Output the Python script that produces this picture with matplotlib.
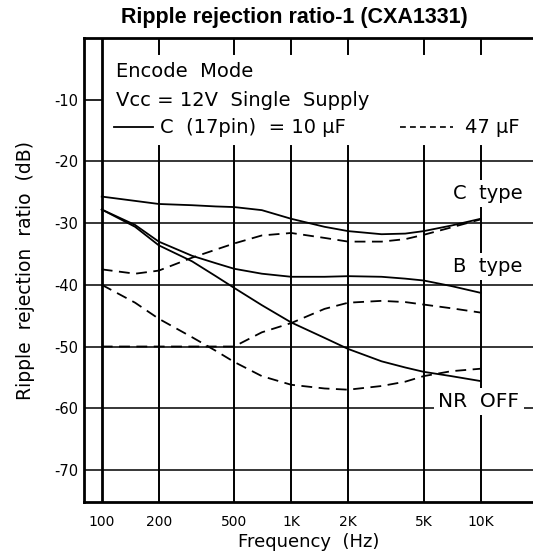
import numpy as np
import matplotlib.pyplot as plt
from matplotlib.lines import Line2D

plt.rcParams['font.family'] = ['DejaVu Sans']

freq = [100, 150, 200, 300, 400, 500, 700, 1000, 1500, 2000, 3000, 4000, 5000, 7000, 10000]

# C (17pin) = 10 uF  -> solid, 47 uF -> dashed
c_type_10 = [-25.7, -26.4, -26.9, -27.1, -27.3, -27.4, -27.9, -29.3, -30.6, -31.3, -31.8, -31.7, -31.3, -30.4, -29.3]
c_type_47 = [-37.5, -38.2, -37.7, -35.6, -34.3, -33.3, -32.0, -31.6, -32.4, -33.0, -33.0, -32.6, -31.9, -30.7, -29.4]
b_type_10 = [-27.8, -30.3, -33.0, -35.3, -36.5, -37.4, -38.2, -38.7, -38.7, -38.6, -38.7, -39.0, -39.3, -40.2, -41.3]
b_type_47 = [-50.0, -50.0, -50.0, -50.0, -50.0, -50.0, -47.7, -46.2, -43.9, -42.9, -42.6, -42.8, -43.2, -43.8, -44.5]
nr_off_10 = [-27.8, -30.6, -33.6, -36.2, -38.6, -40.5, -43.3, -46.1, -48.6, -50.4, -52.4, -53.4, -54.1, -54.8, -55.6]
nr_off_47 = [-40.0, -42.9, -45.5, -48.5, -50.7, -52.5, -54.8, -56.2, -56.8, -57.0, -56.4, -55.7, -54.8, -54.0, -53.6]

grid_freq = [100, 200, 500, 1000, 2000, 5000, 10000]
grid_labels = ['100', '200', '500', '1K', '2K', '5K', '10K']
db_ticks = [-10, -20, -30, -40, -50, -60, -70]

W, H = 533, 559
fig = plt.figure(figsize=(W / 100, H / 100), dpi=100)

def fx(px):
  return px / W

def fy(py):
  return 1 - py / H

ax = fig.add_axes([fx(84), fy(502), fx(W) - fx(84), fy(38) - fy(502)])
ax.set_xscale('log')
ax.set_xlim(80.6, 18900)
ax.set_ylim(-75.2, 0)
ax.minorticks_off()

for s in ['left', 'top', 'bottom']:
  ax.spines[s].set_linewidth(2.0)
ax.spines['right'].set_visible(False)

# grid: horizontal lines below the text block, vertical ones stop at -17.5
for d in db_ticks:
  if d == -10:
    ax.plot([80.6, 100], [d, d], c='k', lw=1.2, zorder=1)
  else:
    ax.axhline(d, c='k', lw=1.1, zorder=1)
for f in grid_freq:
  if f == 100:
    ax.axvline(f, c='k', lw=2.0, zorder=1)
  else:
    ax.plot([f, f], [-75.2, -17.5], c='k', lw=1.4, zorder=1)
    ax.plot([f, f], [0, -2.6], c='k', lw=1.4, zorder=1)

ax.set_xticks(grid_freq)
ax.set_xticklabels(grid_labels)
ax.set_yticks(db_ticks)
ax.set_yticklabels([str(d) for d in db_ticks])
ax.tick_params(length=0, labelsize=10.5, pad=4)
ax.tick_params(axis='x', labelsize=10, pad=9)

dash = (0, (6, 3.6))
for vals in [c_type_10, b_type_10, nr_off_10]:
  ax.plot(freq, vals, c='k', lw=1.3, zorder=3)
for vals in [c_type_47, b_type_47, nr_off_47]:
  ax.plot(freq, vals, c='k', lw=1.3, ls=dash, zorder=3)

box = dict(fc='white', ec='none', pad=3)
ax.text(10900, -25.2, 'C  type', fontsize=14, ha='center', va='center', bbox=box, zorder=4)
ax.text(10900, -37.1, 'B  type', fontsize=14, ha='center', va='center', bbox=box, zorder=4)
ax.text(9800, -58.9, 'NR  OFF', fontsize=14.5, ha='center', va='center', bbox=box, zorder=4)

ax.set_xlabel('Frequency  (Hz)', fontsize=13, labelpad=3)
ax.set_ylabel('Ripple  rejection  ratio  (dB)', fontsize=13.5, labelpad=14)

fig.text(fx(294), fy(18), 'Ripple rejection ratio-1 (CXA1331)', fontsize=15.5,
         fontweight='bold', family='Liberation Sans', ha='center', va='center')
fig.text(fx(116), fy(71), 'Encode  Mode', fontsize=14, va='center')
fig.text(fx(116), fy(100), 'Vcc = 12V  Single  Supply', fontsize=14, va='center')
fig.text(fx(160), fy(128), 'C  (17pin)  = 10 μF', fontsize=14, va='center')
fig.text(fx(465), fy(128), '47 μF', fontsize=14, va='center')
fig.add_artist(Line2D([fx(114), fx(153)], [fy(127), fy(127)], c='k', lw=1.3))
fig.add_artist(Line2D([fx(400), fx(453)], [fy(127), fy(127)], c='k', lw=1.2,
                      ls=(0, (3.5, 2.5))))

plt.savefig('out.png', dpi=100)
